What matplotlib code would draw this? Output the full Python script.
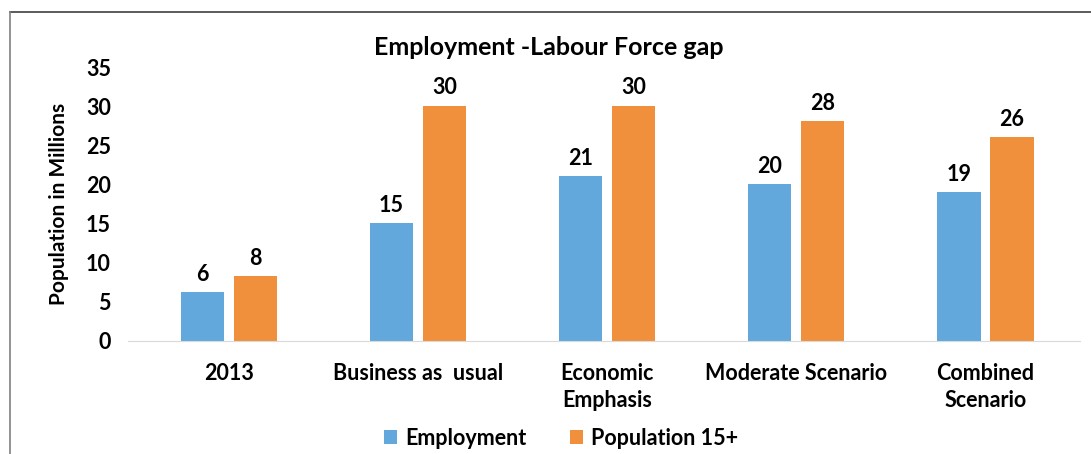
import matplotlib.pyplot as plt
import numpy as np
from matplotlib.lines import Line2D

plt.rcParams['font.family'] = ['Lato', 'DejaVu Sans']
plt.rcParams['font.weight'] = 'bold'

# data
categories = ['2013', 'Business as  usual', 'Economic\nEmphasis',
              'Moderate Scenario', 'Combined\nScenario']
employment = [6.2, 15.1, 21.1, 20.1, 19.1]
population = [8.3, 30.1, 30.1, 28.1, 26.1]
emp_labels = ['6', '15', '21', '20', '19']
pop_labels = ['8', '30', '30', '28', '26']

blue = '#62A8DC'
orange = '#F1903C'

fig = plt.figure(figsize=(10.91, 4.54), dpi=100)
ax = fig.add_axes([0.117, 0.249, 0.873, 0.603])

x = np.arange(len(categories))
w = 0.228
b1 = ax.bar(x - 0.14, employment, w, color=blue, label='Employment')
b2 = ax.bar(x + 0.14, population, w, color=orange, label='Population 15+')

for bars, labs in [(b1, emp_labels), (b2, pop_labels)]:
    for r, t in zip(bars, labs):
        ax.text(r.get_x() + r.get_width() / 2, r.get_height() + 0.9, t,
                ha='center', va='bottom', fontsize=15.5, fontweight='bold')

ax.set_xlim(-0.535, 4.5)
ax.set_ylim(0, 35)
ax.set_yticks(range(0, 36, 5))
ax.set_xticks(x)
ax.set_xticklabels(categories, fontsize=15.5, fontweight='bold', linespacing=1.32,
                   va='top')
ax.tick_params(axis='y', labelsize=15.5, length=0, pad=12)
ax.tick_params(axis='x', length=0, pad=16)
for s in ['top', 'right', 'left']:
    ax.spines[s].set_visible(False)
ax.spines['bottom'].set_color('#D9D9D9')
ax.set_ylabel('Population in Millions', fontsize=15, fontweight='bold', labelpad=12)

fig.text(0.503, 0.896, 'Employment -Labour Force gap', ha='center', va='center',
         fontsize=18, fontweight='bold')

ax.legend(loc='center', bbox_to_anchor=(0.455, -0.355), ncol=2, frameon=False,
          fontsize=15.5, handlelength=0.6, handleheight=0.6, handletextpad=0.4,
          columnspacing=2.0)

# outer frame (top and left edges, as in the source image)
fig.add_artist(Line2D([0.0095, 1.0], [0.973, 0.973], transform=fig.transFigure,
                      color='#404040', lw=1.2))
fig.add_artist(Line2D([0.0095, 0.0095], [0.0, 0.973], transform=fig.transFigure,
                      color='#808080', lw=1.2))

fig.savefig('out.png', dpi=100)
